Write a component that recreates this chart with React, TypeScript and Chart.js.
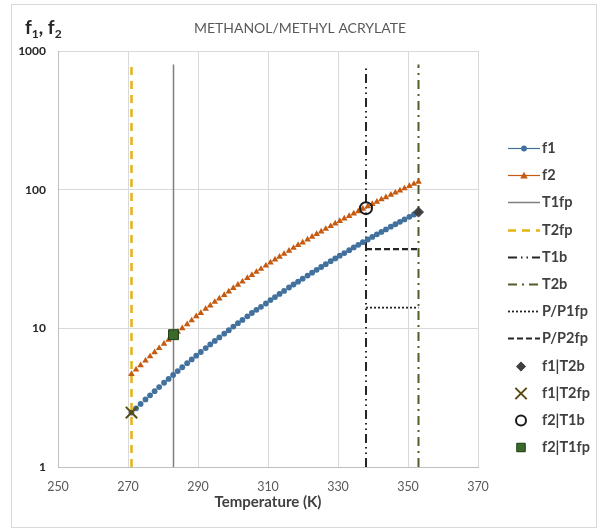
import React, { useEffect, useRef } from 'react';
import { Chart, registerables } from 'chart.js';

Chart.register(...registerables);

// ---------- data ----------
const temperatures = [
  271.0, 272.3, 273.6, 275.0, 276.3, 277.6, 278.9, 280.3, 281.6, 282.9,
  284.2, 285.5, 286.9, 288.2, 289.5, 290.8, 292.2, 293.5, 294.8, 296.1,
  297.5, 298.8, 300.1, 301.4, 302.7, 304.1, 305.4, 306.7, 308.0, 309.4,
  310.7, 312.0, 313.3, 314.6, 316.0, 317.3, 318.6, 319.9, 321.3, 322.6,
  323.9, 325.2, 326.5, 327.9, 329.2, 330.5, 331.8, 333.2, 334.5, 335.8,
  337.1, 338.5, 339.8, 341.1, 342.4, 343.7, 345.1, 346.4, 347.7, 349.0,
  350.4, 351.7, 353.0,
];
const f1Values = [
  2.47, 2.65, 2.85, 3.07, 3.29, 3.52, 3.77, 4.05, 4.32, 4.61,
  4.92, 5.24, 5.61, 5.97, 6.35, 6.75, 7.2, 7.65, 8.11, 8.6,
  9.15, 9.69, 10.3, 10.9, 11.5, 12.2, 12.9, 13.6, 14.3, 15.1,
  16.0, 16.8, 17.7, 18.6, 19.7, 20.7, 21.7, 22.8, 24.0, 25.2,
  26.4, 27.7, 29.0, 30.5, 31.9, 33.4, 34.9, 36.6, 38.3, 40.0,
  41.8, 43.7, 45.6, 47.6, 49.6, 51.7, 54.1, 56.3, 58.6, 61.0,
  63.7, 66.2, 68.9,
];
const f2Values = [
  4.68, 5.03, 5.41, 5.84, 6.27, 6.72, 7.19, 7.73, 8.27, 8.83,
  9.42, 10.0, 10.7, 11.4, 12.2, 12.9, 13.8, 14.6, 15.5, 16.4,
  17.4, 18.4, 19.5, 20.6, 21.7, 23.0, 24.2, 25.5, 26.8, 28.3,
  29.8, 31.3, 32.8, 34.4, 36.2, 38.0, 39.8, 41.6, 43.7, 45.7,
  47.8, 49.9, 52.1, 54.5, 56.9, 59.3, 61.8, 64.6, 67.2, 69.9,
  72.7, 75.8, 78.8, 81.8, 85.0, 88.2, 91.7, 95.1, 98.6, 102,
  106, 110, 114,
];
const T1fp = 283;
const T2fp = 271;
const T1b = 338;
const T2b = 353;
const verticalBottom = 1;
const T1fpTop = 800;
const T2fpTop = 800;
const T1bTop = 750;
const T2bTop = 800;
const P_P1fp = 14.1;
const P_P2fp = 37.3;
const f1AtT2b = 68.9;
const f1AtT2fp = 2.47;
const f2AtT1b = 73.6;
const f2AtT1fp = 9.0;
const xTicks = [250, 270, 290, 310, 330, 350, 370];
const yTicks = [1, 10, 100, 1000];
const legendLabels = ['f1', 'f2', 'T1fp', 'T2fp', 'T1b', 'T2b', 'P/P1fp', 'P/P2fp', 'f1|T2b', 'f1|T2fp', 'f2|T1b', 'f2|T1fp'];
const chartTitle = 'METHANOL/METHYL ACRYLATE';
const xTitle = 'Temperature (K)';

const FONT = 'Lato, "Open Sans", sans-serif';

function drawMarker(ctx: CanvasRenderingContext2D, style: string, x: number, y: number, r: number, fill: string, stroke: string, lw: number) {
  ctx.save();
  ctx.setLineDash([]);
  ctx.lineWidth = lw;
  ctx.fillStyle = fill;
  ctx.strokeStyle = stroke;
  ctx.beginPath();
  if (style === 'circle') {
    ctx.arc(x, y, r, 0, Math.PI * 2);
    ctx.fill();
    if (lw > 0) ctx.stroke();
  } else if (style === 'triangle') {
    ctx.moveTo(x, y - r);
    ctx.lineTo(x + r, y + r * 0.8);
    ctx.lineTo(x - r, y + r * 0.8);
    ctx.closePath();
    ctx.fill();
  } else if (style === 'rect') {
    const s = r * Math.SQRT1_2;
    ctx.rect(x - s, y - s, 2 * s, 2 * s);
    ctx.fill();
    ctx.stroke();
  } else if (style === 'rectRot') {
    const s = r * Math.SQRT1_2 * 1.3;
    ctx.moveTo(x, y - s);
    ctx.lineTo(x + s, y);
    ctx.lineTo(x, y + s);
    ctx.lineTo(x - s, y);
    ctx.closePath();
    ctx.fill();
    ctx.stroke();
  } else if (style === 'crossRot') {
    const s = r * Math.SQRT1_2;
    ctx.moveTo(x - s, y - s);
    ctx.lineTo(x + s, y + s);
    ctx.moveTo(x + s, y - s);
    ctx.lineTo(x - s, y + s);
    ctx.stroke();
  }
  ctx.restore();
}

const decorPlugin = {
  id: 'decor',
  afterDraw(chart: any) {
    const ctx: CanvasRenderingContext2D = chart.ctx;
    ctx.save();
    // outer frame
    ctx.strokeStyle = '#d9d9d9';
    ctx.lineWidth = 1;
    ctx.strokeRect(11.5, 4.5, 585, 523);

    // title
    ctx.fillStyle = '#595959';
    ctx.font = `14px ${FONT}`;
    ctx.textAlign = 'center';
    ctx.textBaseline = 'middle';
    ctx.fillText(chartTitle, 300, 28);

    // y title f1, f2
    ctx.fillStyle = '#262626';
    ctx.textAlign = 'left';
    ctx.textBaseline = 'alphabetic';
    let x = 25;
    const base = 34;
    const big = `bold 19px ${FONT}`;
    const small = `bold 12px ${FONT}`;
    const parts: [string, boolean][] = [['f', false], ['1', true], [', f', false], ['2', true]];
    for (const [t, sub] of parts) {
      ctx.font = sub ? small : big;
      ctx.fillText(t, x, sub ? base + 4 : base);
      x += ctx.measureText(t).width;
    }

    // x title
    ctx.fillStyle = '#404040';
    ctx.font = `bold 15px ${FONT}`;
    ctx.textAlign = 'center';
    ctx.textBaseline = 'middle';
    const area = chart.chartArea;
    ctx.fillText(xTitle, (area.left + area.right) / 2, 502);

    // legend
    const x0 = 508;
    const x1 = 540;
    const textX = 542;
    const y0 = 148;
    const step = 27.2;
    ctx.font = `bold 14.5px ${FONT}`;
    ctx.textAlign = 'left';
    ctx.textBaseline = 'middle';
    chart.data.datasets.forEach((ds: any, i: number) => {
      const y = Math.round(y0 + i * step) + 0.5;
      if (ds.legendLine) {
        ctx.save();
        ctx.strokeStyle = ds.borderColor;
        ctx.lineWidth = ds.legendWidth || ds.borderWidth;
        ctx.setLineDash(ds.borderDash || []);
        ctx.beginPath();
        ctx.moveTo(x0, y);
        ctx.lineTo(x1, y);
        ctx.stroke();
        ctx.restore();
        if (ds.pointRadius > 0) {
          drawMarker(ctx, ds.pointStyle, (x0 + x1) / 2, y, ds.pointRadius, ds.pointBackgroundColor, ds.pointBorderColor, 0);
        }
      } else {
        drawMarker(ctx, ds.pointStyle, 521, y, ds.legendRadius || ds.pointRadius, ds.pointBackgroundColor, ds.pointBorderColor, ds.pointBorderWidth);
      }
      ctx.fillStyle = '#404040';
      ctx.fillText(ds.label, textX, y);
    });
    ctx.restore();
  },
};

export default function App() {
  const ref = useRef<HTMLCanvasElement | null>(null);

  useEffect(() => {
    document.body.style.margin = '0';
    const canvas = ref.current;
    if (!canvas) return;

    const blue = '#41719c';
    const orange = '#c55a11';

    const vline = (t: number, top: number) => [
      { x: t, y: verticalBottom },
      { x: t, y: top },
    ];
    const hline = (v: number) => [
      { x: T1b, y: v },
      { x: T2b, y: v },
    ];

    const lineDs = (label: string, data: any[], color: string, width: number, dash: number[], order: number) => ({
      label,
      data,
      borderColor: color,
      backgroundColor: color,
      borderWidth: width,
      borderDash: dash,
      pointRadius: 0,
      pointStyle: 'circle',
      pointBackgroundColor: color,
      pointBorderColor: color,
      showLine: true,
      legendLine: true,
      order,
    });

    const markerDs = (label: string, pt: { x: number; y: number }, style: string, radius: number, fill: string, stroke: string, bw: number, legendRadius: number) => ({
      label,
      data: [pt],
      showLine: false,
      pointStyle: style,
      pointRadius: radius,
      pointBackgroundColor: fill,
      pointBorderColor: stroke,
      pointBorderWidth: bw,
      borderColor: stroke,
      backgroundColor: fill,
      legendRadius,
      order: 0,
    });

    const chart = new Chart(canvas, {
      type: 'scatter',
      data: {
        datasets: [
          {
            label: legendLabels[0],
            data: temperatures.map((t, i) => ({ x: t, y: f1Values[i] })),
            showLine: false,
            legendLine: true,
            legendWidth: 1.2,
            borderColor: blue,
            backgroundColor: blue,
            borderWidth: 1,
            pointStyle: 'circle',
            pointRadius: 2.9,
            pointBackgroundColor: blue,
            pointBorderColor: blue,
            pointBorderWidth: 0,
            order: 5,
          } as any,
          {
            label: legendLabels[1],
            data: temperatures.map((t, i) => ({ x: t, y: f2Values[i] })),
            showLine: false,
            legendLine: true,
            legendWidth: 1.2,
            borderColor: orange,
            backgroundColor: orange,
            borderWidth: 1,
            pointStyle: 'triangle',
            pointRadius: 3.8,
            pointBackgroundColor: orange,
            pointBorderColor: orange,
            pointBorderWidth: 0,
            order: 5,
          } as any,
          lineDs(legendLabels[2], vline(T1fp, T1fpTop), '#7f7f7f', 1.5, [], 10),
          lineDs(legendLabels[3], vline(T2fp, T2fpTop), '#e6b410', 2.5, [8, 6], 10),
          lineDs(legendLabels[4], vline(T1b, T1bTop), '#262626', 2, [9, 4, 1.5, 4, 1.5, 4], 10),
          lineDs(legendLabels[5], vline(T2b, T2bTop), '#4f5f28', 2, [9, 5, 2, 5], 10),
          lineDs(legendLabels[6], hline(P_P1fp), '#262626', 1.8, [2, 2], 10),
          lineDs(legendLabels[7], hline(P_P2fp), '#262626', 2.2, [6, 3], 10),
          markerDs(legendLabels[8], { x: T2b, y: f1AtT2b }, 'rectRot', 5, '#404040', '#404040', 1, 5),
          markerDs(legendLabels[9], { x: T2fp, y: f1AtT2fp }, 'crossRot', 8, '#5a4a14', '#5a4a14', 2, 8),
          markerDs(legendLabels[10], { x: T1b, y: f2AtT1b }, 'circle', 6, 'rgba(0,0,0,0)', '#1a1a1a', 2, 5),
          markerDs(legendLabels[11], { x: T1fp, y: f2AtT1fp }, 'rect', 7, '#3a6a27', '#1f3a14', 1, 6),
        ] as any,
      },
      options: {
        animation: false,
        responsive: false,
        devicePixelRatio: 1,
        layout: { padding: { left: 0, right: 122, top: 51, bottom: 0 } },
        plugins: {
          legend: { display: false },
          title: { display: false },
          tooltip: { enabled: false },
        },
        scales: {
          x: {
            type: 'linear',
            min: 250,
            max: 370,
            afterBuildTicks: (scale: any) => {
              scale.ticks = xTicks.map((v) => ({ value: v }));
            },
            afterFit: (scale: any) => {
              scale.height = 63;
            },
            grid: { color: '#d9d9d9', lineWidth: 1, drawTicks: false },
            border: { display: true, color: '#bfbfbf', width: 1 },
            ticks: {
              padding: 12,
              color: '#595959',
              font: { family: FONT, size: 12.5 },
              callback: (v: any) => String(v),
            },
          },
          y: {
            type: 'logarithmic',
            min: 1,
            max: 1000,
            afterBuildTicks: (scale: any) => {
              scale.ticks = yTicks.map((v) => ({ value: v, major: true }));
            },
            afterFit: (scale: any) => {
              scale.width = 58;
            },
            grid: { color: '#d9d9d9', lineWidth: 1, drawTicks: false },
            border: { display: true, color: '#bfbfbf', width: 1 },
            ticks: {
              padding: 12,
              color: '#262626',
              font: { family: FONT, size: 12, weight: 'bold' },
              callback: (v: any) => String(v),
            },
          },
        },
      } as any,
      plugins: [decorPlugin],
    });

    return () => chart.destroy();
  }, []);

  return (
    <div style={{ width: 600, height: 530 }}>
      <canvas ref={ref} width={600} height={530} style={{ display: 'block', width: 600, height: 530 }} />
    </div>
  );
}
